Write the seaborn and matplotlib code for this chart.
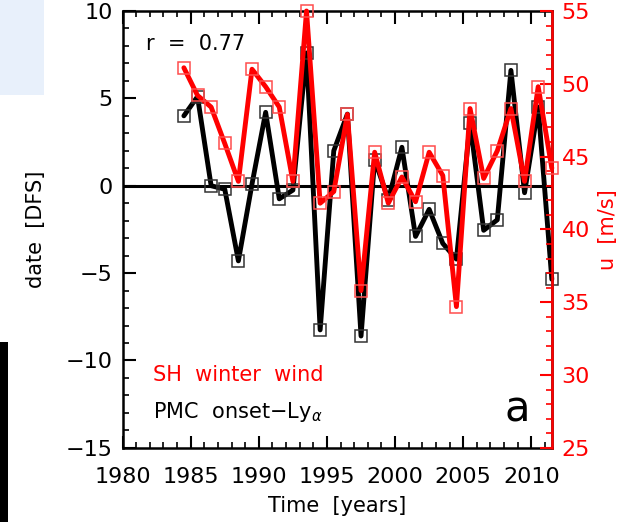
import matplotlib
matplotlib.use("Agg")
import matplotlib.pyplot as plt
import seaborn as sns
import numpy as np
import pandas as pd
from matplotlib.ticker import MultipleLocator
from matplotlib.patches import Rectangle

years = [1984.5, 1985.5, 1986.5, 1987.5, 1988.5, 1989.5, 1990.5, 1991.5, 1992.5,
         1993.5, 1994.5, 1995.5, 1996.5, 1997.5, 1998.5, 1999.5, 2000.5, 2001.5,
         2002.5, 2003.5, 2004.5, 2005.5, 2006.5, 2007.5, 2008.5, 2009.5, 2010.5, 2011.5]
pmc_onset = [4.0, 5.1, 0.0, -0.2, -4.3, 0.1, 4.2, -0.75, -0.25, 7.6, -8.25, 2.0,
             4.1, -8.6, 1.5, -0.8, 2.2, -2.9, -1.35, -3.3, -4.2, 3.6, -2.55, -1.95,
             6.6, -0.4, 4.5, -5.35]
sh_wind = [51.1, 49.2, 48.4, 45.9, 43.3, 51.0, 49.8, 48.4, 43.3, 55.0, 41.8, 42.6,
           47.9, 35.8, 45.3, 41.8, 43.6, 41.9, 45.3, 43.7, 34.7, 48.3, 43.5, 45.4,
           48.3, 43.3, 49.8, 44.2]

df = pd.DataFrame({"year": years, "pmc": pmc_onset, "wind": sh_wind})

sns.set_style("ticks")
plt.rcParams['font.family'] = ['DejaVu Sans']
RED = "#ff0000"

fig = plt.figure(figsize=(6.35, 5.22), dpi=100)
ax = fig.add_axes([0.193, 0.142, 0.676, 0.837])

ax.axhline(0, color="black", lw=2.2, zorder=1)
sns.lineplot(data=df, x="year", y="pmc", ax=ax, color="black", lw=3.5,
             marker="s", markersize=9, markerfacecolor="none",
             markeredgecolor="#333333", markeredgewidth=1.1, zorder=3, clip_on=False)
ax.set_xlim(1980, 2011.5)
ax.set_ylim(-15, 10)
ax.xaxis.set_major_locator(MultipleLocator(5))
ax.xaxis.set_minor_locator(MultipleLocator(1))
ax.yaxis.set_major_locator(MultipleLocator(5))
ax.yaxis.set_minor_locator(MultipleLocator(1))
ax.tick_params(axis="both", which="major", direction="in", length=9, width=1.5,
               labelsize=16, top=True, right=False, colors="black")
ax.tick_params(axis="x", which="major", pad=14)
ax.tick_params(axis="y", which="major", pad=7)
ax.tick_params(axis="both", which="minor", direction="in", length=4.5, width=1.2,
               top=True, right=False, colors="black")
ax.set_xticklabels([str(int(v)) for v in ax.get_xticks()])
ax.set_xlabel("Time  [years]", fontsize=15, labelpad=6, color="black")
ax.set_ylabel("date  [DFS]", fontsize=15, labelpad=14, color="black")
for s in ax.spines.values():
    s.set_linewidth(1.8)
    s.set_color("black")

ax2 = ax.twinx()
sns.lineplot(data=df, x="year", y="wind", ax=ax2, color=RED, lw=3.5,
             marker="s", markersize=9, markerfacecolor="none",
             markeredgecolor="#ff4d4d", markeredgewidth=1.1, zorder=4, clip_on=False)
ax2.set_ylim(25, 55)
ax2.yaxis.set_major_locator(MultipleLocator(5))
ax2.yaxis.set_minor_locator(MultipleLocator(1))
ax2.tick_params(axis="y", which="major", direction="in", length=9, width=1.5,
                labelsize=16, colors=RED, pad=7)
ax2.tick_params(axis="y", which="minor", direction="in", length=4.5, width=1.2,
                colors=RED)
ax2.set_ylabel("u  [m/s]", fontsize=15, color=RED, labelpad=6)
ax2.spines["right"].set_color(RED)
ax2.spines["right"].set_linewidth(1.8)
for k in ["left", "top", "bottom"]:
    ax2.spines[k].set_visible(False)

ax.text(0.055, 0.91, "r  =  0.77", transform=ax.transAxes, fontsize=15, color="black")
ax.text(0.072, 0.152, "SH  winter  wind", transform=ax.transAxes, fontsize=15, color=RED)
ax.text(0.072, 0.068, r"PMC  onset$-$Ly$_\alpha$", transform=ax.transAxes, fontsize=15,
        color="black")
ax.text(0.89, 0.06, "a", transform=ax.transAxes, fontsize=30, color="black")

# cropping remnants at the left edge
fig.patches.append(Rectangle((0, 0.818), 0.07, 0.182, transform=fig.transFigure,
                             facecolor="#e8f0fb", edgecolor="none", zorder=-1))
fig.patches.append(Rectangle((0, 0.0), 0.013, 0.345, transform=fig.transFigure,
                             facecolor="black", edgecolor="none", zorder=-1))

fig.savefig("out.png", dpi=100)
